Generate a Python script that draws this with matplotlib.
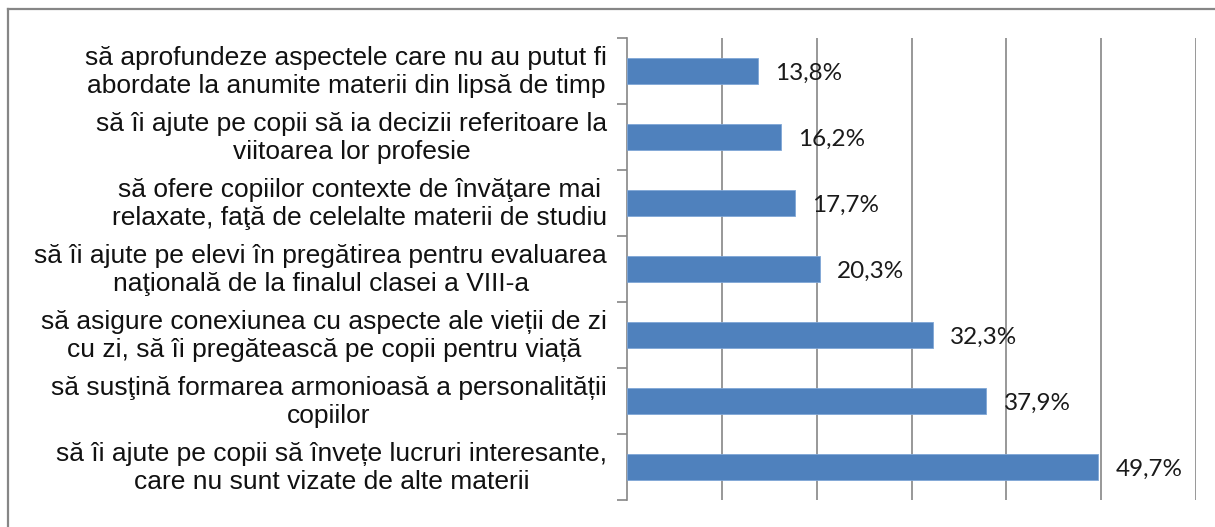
import numpy as np
import matplotlib.pyplot as plt
from matplotlib.lines import Line2D
import matplotlib.transforms as mtransforms

labels = [
    "să aprofundeze aspectele care nu au putut fi\nabordate la anumite materii din lipsă de timp",
    "să îi ajute pe copii să ia decizii referitoare la\nviitoarea lor profesie",
    "să ofere copiilor contexte de învăţare mai\nrelaxate, faţă de celelalte materii de studiu",
    "să îi ajute pe elevi în pregătirea pentru evaluarea\nnaţională de la finalul clasei a VIII-a",
    "să asigure conexiunea cu aspecte ale vieții de zi\ncu zi, să îi pregătească pe copii pentru viață",
    "să susţină formarea armonioasă a personalității\ncopiilor",
    "să îi ajute pe copii să învețe lucruri interesante,\ncare nu sunt vizate de alte materii",
]
values = [13.8, 16.2, 17.7, 20.3, 32.3, 37.9, 49.7]

grey = "#868686"
fig = plt.figure(figsize=(12.15, 5.27), dpi=100)
ax = fig.add_axes([627 / 1215, 1 - 500 / 527, (1196 - 627) / 1215, (500 - 38) / 527])

y = np.arange(len(values))
ax.barh(y, values, height=0.4, color="#4F81BD", edgecolor="#7FA6D6", linewidth=0.6, zorder=3)
ax.set_ylim(len(values) - 0.5, -0.5)
ax.set_xlim(0, 60)

ax.set_xticks(np.arange(10, 61, 10))
ax.grid(axis="x", color=grey, linewidth=1.2, zorder=0)
ax.tick_params(axis="x", length=0, labelbottom=False)
ax.set_yticks(np.arange(-0.5, len(values), 1))
ax.tick_params(axis="y", length=7, width=1.2, color=grey, labelleft=False)
for s in ["top", "right", "bottom"]:
    ax.spines[s].set_visible(False)
ax.spines["left"].set_color(grey)
ax.spines["left"].set_linewidth(1.2)

trans = mtransforms.blended_transform_factory(fig.transFigure, ax.transData)
for i, (lab, v) in enumerate(zip(labels, values)):
    ax.text(607 / 1215, i + 0.02, lab, transform=trans, ha="right", va="center",
            multialignment="center", fontsize=19, family="Liberation Sans",
            linespacing=1.2, color="#111111")
    ax.text(v + 1.8, i + 0.03, f"{v:.1f}%".replace(".", ","), ha="left", va="center",
            fontsize=17.5, family="Lato", color="#1a1a1a", zorder=4)

fig.add_artist(Line2D([8 / 1215, 1.0], [1 - 9 / 527, 1 - 9 / 527], color=grey, linewidth=1.6,
                      transform=fig.transFigure))
fig.add_artist(Line2D([8 / 1215, 8 / 1215], [1 - 9 / 527, 0.0], color=grey, linewidth=1.6,
                      transform=fig.transFigure))

fig.savefig("out.png", dpi=100)
